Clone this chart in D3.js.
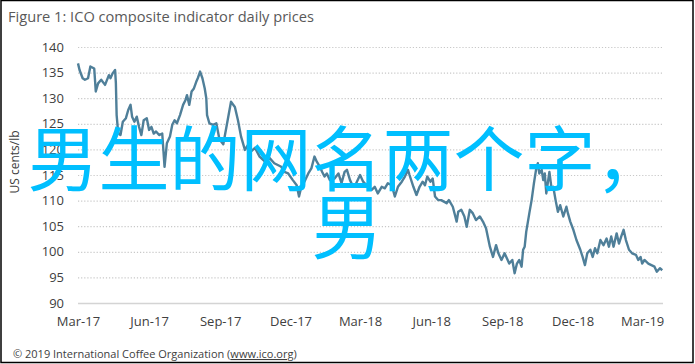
<!DOCTYPE html>
<html>
<head>
<meta charset="utf-8">
<script src="https://cdn.jsdelivr.net/npm/d3@7"></script>
<style>
  body { margin: 0; background: #fff; }
  svg { display: block; }
</style>
</head>
<body>
<svg id="chart" width="695" height="364"></svg>
<script>
// data (US cents/lb)
let dates = [
  "2017-03-01","2017-03-03","2017-03-07","2017-03-10","2017-03-14","2017-03-17","2017-03-22","2017-03-24","2017-03-27","2017-03-31",
  "2017-04-05","2017-04-10","2017-04-12","2017-04-15","2017-04-18","2017-04-19","2017-04-20","2017-04-22","2017-04-25","2017-04-28",
  "2017-05-02","2017-05-05","2017-05-08","2017-05-10","2017-05-13","2017-05-16","2017-05-19","2017-05-22","2017-05-25","2017-05-29",
  "2017-06-01","2017-06-04","2017-06-07","2017-06-10","2017-06-14","2017-06-18","2017-06-21","2017-06-24","2017-06-28","2017-07-01",
  "2017-07-04","2017-07-07","2017-07-11","2017-07-15","2017-07-18","2017-07-20","2017-07-23","2017-07-26","2017-07-29","2017-08-01",
  "2017-08-03","2017-08-06","2017-08-09","2017-08-12","2017-08-14","2017-08-15","2017-08-18","2017-08-23","2017-08-27","2017-08-31",
  "2017-09-05","2017-09-11","2017-09-15","2017-09-20","2017-09-24","2017-09-28","2017-10-03","2017-10-07","2017-10-11","2017-10-16",
  "2017-10-22","2017-10-29","2017-11-04","2017-11-10","2017-11-19","2017-11-23","2017-11-28","2017-12-04","2017-12-09","2017-12-12",
  "2017-12-15","2017-12-19","2017-12-24","2017-12-28","2018-01-01","2018-01-04","2018-01-08","2018-01-11","2018-01-14","2018-01-17",
  "2018-01-21","2018-01-27","2018-02-01","2018-02-05","2018-02-09","2018-02-12","2018-02-16","2018-02-20","2018-02-24","2018-03-01",
  "2018-03-05","2018-03-11","2018-03-16","2018-03-20","2018-03-24","2018-03-29","2018-04-02","2018-04-06","2018-04-11","2018-04-15",
  "2018-04-19","2018-04-24","2018-04-28","2018-05-02","2018-05-04","2018-05-09","2018-05-13","2018-05-17","2018-05-21","2018-05-24",
  "2018-05-27","2018-05-31","2018-06-03","2018-06-06","2018-06-10","2018-06-14","2018-06-21","2018-06-24","2018-06-29","2018-07-04",
  "2018-07-06","2018-07-10","2018-07-14","2018-07-17","2018-07-21","2018-07-25","2018-07-29","2018-08-03","2018-08-07","2018-08-11",
  "2018-08-16","2018-08-20","2018-08-24","2018-08-27","2018-08-31","2018-09-04","2018-09-08","2018-09-10","2018-09-14","2018-09-17",
  "2018-09-20","2018-09-23","2018-09-26","2018-09-28","2018-09-30","2018-10-02","2018-10-06","2018-10-09","2018-10-12","2018-10-15",
  "2018-10-17","2018-10-19","2018-10-22","2018-10-24","2018-10-26","2018-10-28","2018-11-01","2018-11-04","2018-11-06","2018-11-09",
  "2018-11-12","2018-11-15","2018-11-19","2018-11-23","2018-11-25","2018-11-28","2018-12-02","2018-12-06","2018-12-11","2018-12-14",
  "2018-12-17","2018-12-20","2018-12-24","2018-12-27","2018-12-30","2019-01-02","2019-01-06","2019-01-10","2019-01-14","2019-01-17",
  "2019-01-20","2019-01-23","2019-01-27","2019-01-30","2019-02-02","2019-02-05","2019-02-08","2019-02-12","2019-02-16","2019-02-21",
  "2019-02-24","2019-02-27","2019-03-01","2019-03-04","2019-03-09","2019-03-13","2019-03-17","2019-03-20","2019-03-24","2019-03-27"
];
let prices = [
  136.8,135.5,133.9,133.6,133.9,136.2,135.8,131.3,132.9,133.6,
  132.6,134.5,133.9,134.9,135.5,133.0,126.7,123.2,122.8,125.4,
  126.1,127.7,128.7,126.4,125.4,126.4,124.4,122.8,125.7,126.1,
  123.8,124.4,123.1,123.5,122.8,123.1,116.6,121.2,122.5,124.8,
  125.7,125.1,126.7,128.7,129.6,130.6,128.7,131.3,131.9,133.2,
  133.9,135.2,133.9,131.9,130.0,126.7,125.1,124.8,125.1,122.0,
  121.0,126.0,129.3,128.3,125.7,122.5,119.9,120.9,119.6,120.3,
  118.6,117.6,118.3,117.3,116.6,115.6,115.3,114.0,113.0,110.8,
  112.7,113.7,115.3,116.3,118.6,117.6,116.6,115.6,114.7,115.3,
  114.0,114.3,115.3,113.4,115.6,116.0,114.0,112.7,113.4,115.0,
  113.7,112.7,112.1,112.7,111.4,112.7,112.4,113.4,113.0,110.8,
  112.7,113.7,114.7,116.0,115.0,112.7,111.1,112.7,113.7,113.0,
  114.7,113.7,114.3,110.8,110.1,110.1,109.5,110.1,108.8,105.9,
  107.8,108.2,106.9,104.9,108.2,107.5,106.2,106.9,105.9,104.6,
  101.0,99.0,101.3,99.7,98.4,99.7,98.4,97.7,98.4,95.8,
  97.7,98.4,97.1,100.4,101.0,103.9,107.5,110.1,113.4,116.3,
  117.3,115.3,116.0,114.0,115.3,111.4,115.6,112.1,112.7,110.1,
  107.8,109.1,106.9,108.8,107.5,105.9,104.3,102.3,100.4,99.0,
  97.4,99.7,100.4,99.0,100.7,99.7,102.3,101.3,102.6,101.0,
  103.0,101.0,103.6,101.6,103.0,104.3,102.3,100.4,99.7,99.4,
  98.4,99.0,97.7,98.4,97.7,97.4,97.1,96.1,96.8,96.4
];
let yTicks = [90, 95, 100, 105, 110, 115, 120, 125, 130, 135, 140];
let xTickDates = ["2017-03-01","2017-06-01","2017-09-01","2017-12-01","2018-03-01","2018-06-01","2018-09-01","2018-12-01","2019-03-01"];

let parse = d3.timeParse("%Y-%m-%d");
let data = dates.map(function(d, i) { return { date: parse(d), price: prices[i] }; });

let chart = d3.select("#chart");
let textColor = "#404040";

// outer frame
chart.append("rect")
    .attr("x", 1).attr("y", 0.5)
    .attr("width", 692).attr("height", 362)
    .attr("fill", "#fff")
    .attr("stroke", "#000")
    .attr("stroke-width", 1.5);

chart.append("text")
    .text("Figure 1: ICO composite indicator daily prices")
    .attr("x", 8).attr("y", 22)
    .attr("textLength", 306)
    .attr("lengthAdjust", "spacingAndGlyphs")
    .style("font-family", "'Open Sans', sans-serif")
    .style("font-size", "15px")
    .style("fill", "#595959");

// scales
let x = d3.scaleTime()
    .domain([parse("2017-03-01"), parse("2019-03-28")])
    .range([78, 663]);

let y = d3.scaleLinear()
    .domain([90, 140])
    .range([303, 47]);

// gridlines
chart.selectAll("grid")
    .data(yTicks)
    .enter()
    .append("line")
    .attr("x1", 78).attr("x2", 663)
    .attr("y1", function(d) { return y(d) + 0.5; })
    .attr("y2", function(d) { return y(d) + 0.5; })
    .attr("stroke", function(d) { return d === 90 ? "#d4d4d4" : "#c8c8c8"; })
    .attr("stroke-width", function(d) { return d === 90 ? 1.5 : 1.2; })
    .attr("stroke-dasharray", function(d) { return d === 90 ? null : "1.2,1.9"; });

// y axis labels
let yAxis = chart.append("g")
    .attr("transform", "translate(64,0)")
    .call(d3.axisLeft(y).tickValues(yTicks).tickSize(0).tickPadding(0));
yAxis.select(".domain").remove();
yAxis.selectAll("text")
    .style("font-family", "'Open Sans', sans-serif")
    .style("font-size", "13px")
    .style("fill", textColor);

chart.append("text")
    .text("US cents/lb")
    .attr("transform", "translate(19,162) rotate(-90)")
    .style("text-anchor", "middle")
    .style("font-family", "'Open Sans', sans-serif")
    .style("font-size", "12px")
    .style("fill", textColor);

// x axis labels
let xAxis = chart.append("g")
    .attr("transform", "translate(0,313)")
    .call(d3.axisBottom(x)
        .tickValues(xTickDates.map(parse))
        .tickFormat(d3.timeFormat("%b-%y"))
        .tickSize(0).tickPadding(4));
xAxis.select(".domain").remove();
xAxis.selectAll("text")
    .style("font-family", "'Open Sans', sans-serif")
    .style("font-size", "13px")
    .style("fill", textColor);

// price line
let line = d3.line()
    .x(function(d) { return x(d.date); })
    .y(function(d) { return y(d.price); });

chart.append("path")
    .datum(data)
    .attr("d", line)
    .attr("fill", "none")
    .attr("stroke", "#4f7f99")
    .attr("stroke-width", 2.4)
    .attr("stroke-linejoin", "round");

// footer
let footer = chart.append("text")
    .attr("x", 13).attr("y", 358)
    .style("font-family", "'Open Sans', sans-serif")
    .style("font-size", "11px")
    .style("fill", textColor);
footer.append("tspan").text("© 2019 International Coffee Organization (");
footer.append("tspan").text("www.ico.org").style("text-decoration", "underline");
footer.append("tspan").text(")");

// overlay text
let overlay = ["男生的网名两个字，", "男"];
chart.selectAll("overlay")
    .data(overlay)
    .enter()
    .append("text")
    .text(function(d) { return d; })
    .attr("x", 347)
    .attr("y", function(d, i) { return 185 + i * 68; })
    .style("text-anchor", "middle")
    .style("font-family", "'Noto Sans CJK SC', sans-serif")
    .style("font-size", "71px")
    .style("fill", "#00bfff");
</script>
</body>
</html>
